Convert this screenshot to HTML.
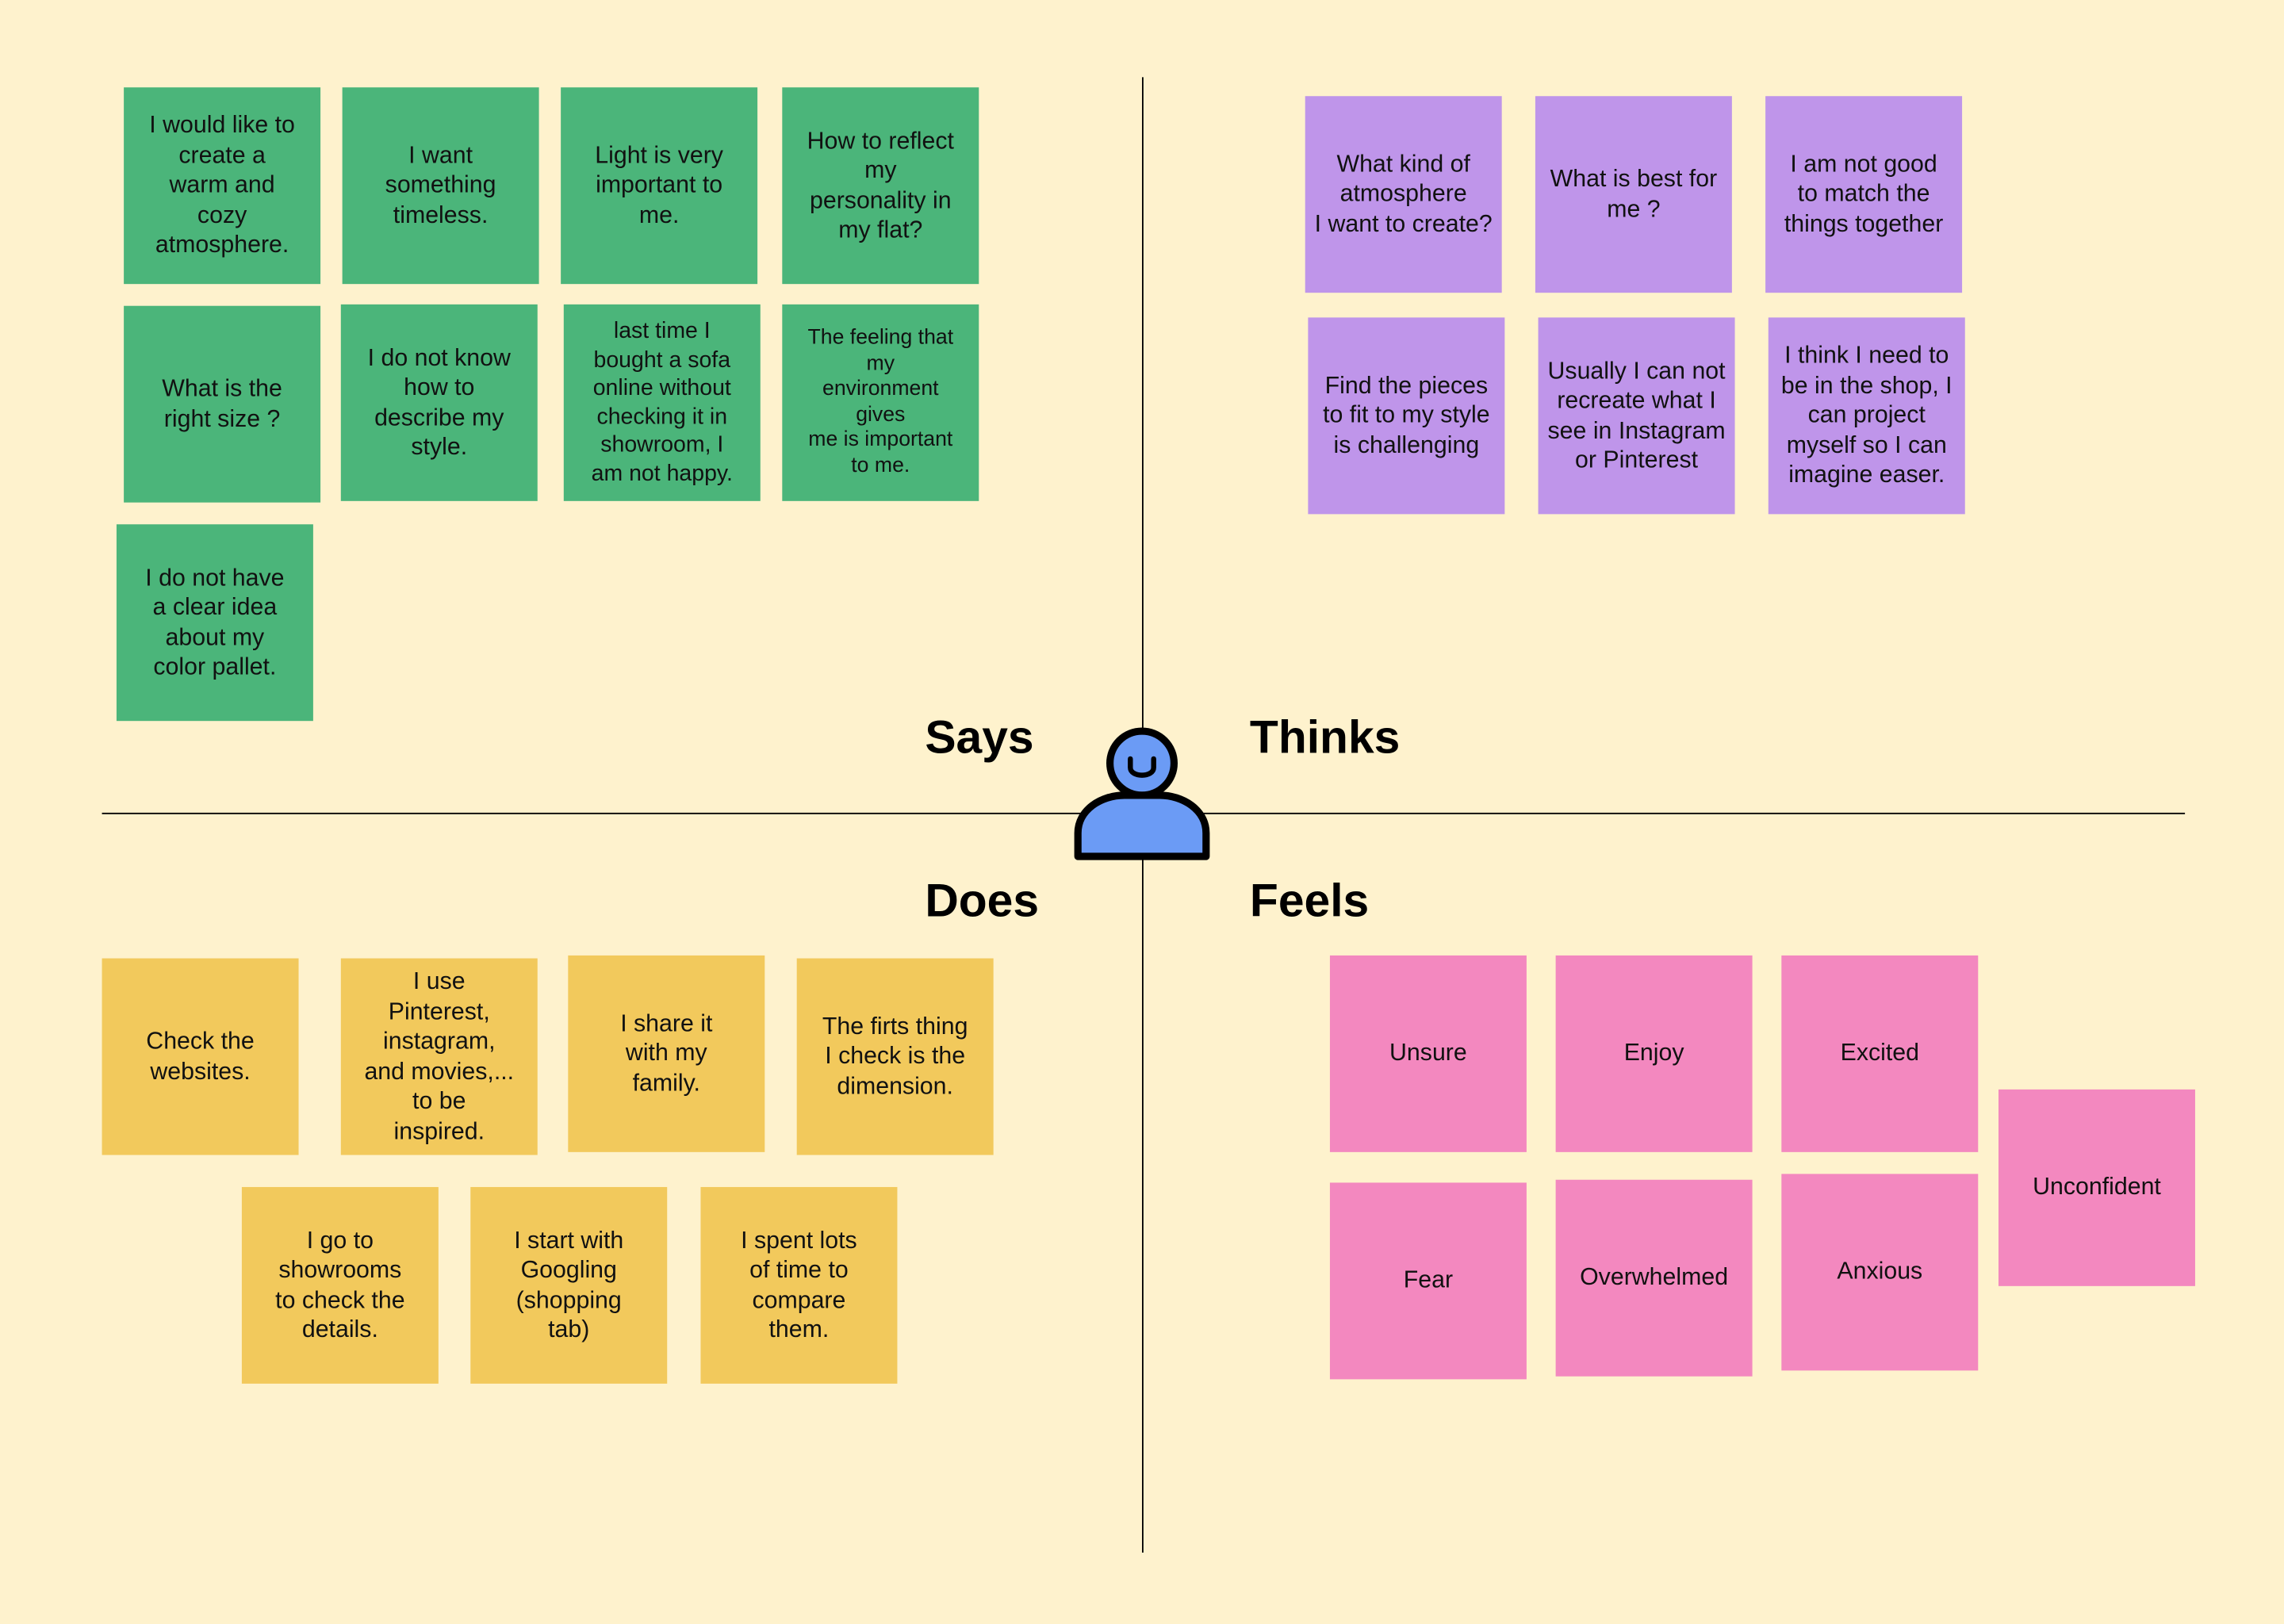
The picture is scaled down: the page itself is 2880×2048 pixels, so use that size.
<!DOCTYPE html>
<html><head><meta charset="utf-8"><style>
html,body{margin:0;padding:0;width:2880px;height:2048px;overflow:hidden;background:#FEF2CD;}
#w{position:absolute;left:0;top:0;width:1568px;height:1115px;transform:scale(1.836735);transform-origin:0 0;font-family:"Liberation Sans",Arial,sans-serif;}
.n{position:absolute;width:135px;height:135px;display:flex;align-items:center;justify-content:center;text-align:center;font-size:16.5px;line-height:20.5px;color:#111;box-sizing:border-box;padding:0 4px;white-space:nowrap;}
.g{background:#4BB57A}.p{background:#BF95EA}.y{background:#F2C95C}.k{background:#F388BF}
.t{position:absolute;font-size:32px;font-weight:bold;color:#000;}
.vl{position:absolute;left:784px;top:53px;width:1.3px;height:1013px;background:#000}
.hl{position:absolute;left:70px;top:558px;width:1430px;height:1.3px;background:#000}
</style></head><body><div id="w">
<div class="vl"></div><div class="hl"></div>
<div class="n g" style="left:85px;top:60px">I would like to<br>create a<br>warm and<br>cozy<br>atmosphere.</div>
<div class="n g" style="left:235px;top:60px">I want<br>something<br>timeless.</div>
<div class="n g" style="left:385px;top:60px">Light is very<br>important to<br>me.</div>
<div class="n g" style="left:537px;top:60px">How to reflect<br>my<br>personality in<br>my flat?</div>
<div class="n g" style="left:85px;top:210px">What is the<br>right size ?</div>
<div class="n g" style="left:234px;top:209px">I do not know<br>how to<br>describe my<br>style.</div>
<div class="n g" style="left:387px;top:209px;font-size:15.5px;line-height:19.5px">last time I<br>bought a sofa<br>online without<br>checking it in<br>showroom, I<br>am not happy.</div>
<div class="n g" style="left:537px;top:209px;font-size:14.5px;line-height:17.5px">The feeling that<br>my<br>environment<br>gives<br>me is important<br>to me.</div>
<div class="n g" style="left:80px;top:360px">I do not have<br>a clear idea<br>about my<br>color pallet.</div>

<div class="n p" style="left:896px;top:66px">What kind of<br>atmosphere<br>I want to create?</div>
<div class="n p" style="left:1054px;top:66px">What is best for<br>me ?</div>
<div class="n p" style="left:1212px;top:66px">I am not good<br>to match the<br>things together</div>
<div class="n p" style="left:898px;top:218px">Find the pieces<br>to fit to my style<br>is challenging</div>
<div class="n p" style="left:1056px;top:218px">Usually I can not<br>recreate what I<br>see in Instagram<br>or Pinterest</div>
<div class="n p" style="left:1214px;top:218px">I think I need to<br>be in the shop, I<br>can project<br>myself so I can<br>imagine easer.</div>

<div class="n y" style="left:70px;top:658px">Check the<br>websites.</div>
<div class="n y" style="left:234px;top:658px">I use<br>Pinterest,<br>instagram,<br>and movies,...<br>to be<br>inspired.</div>
<div class="n y" style="left:390px;top:656px">I share it<br>with my<br>family.</div>
<div class="n y" style="left:547px;top:658px">The firts thing<br>I check is the<br>dimension.</div>
<div class="n y" style="left:166px;top:815px">I go to<br>showrooms<br>to check the<br>details.</div>
<div class="n y" style="left:323px;top:815px">I start with<br>Googling<br>(shopping<br>tab)</div>
<div class="n y" style="left:481px;top:815px">I spent lots<br>of time to<br>compare<br>them.</div>

<div class="n k" style="left:913px;top:656px">Unsure</div>
<div class="n k" style="left:1068px;top:656px">Enjoy</div>
<div class="n k" style="left:1223px;top:656px">Excited</div>
<div class="n k" style="left:913px;top:812px">Fear</div>
<div class="n k" style="left:1068px;top:810px">Overwhelmed</div>
<div class="n k" style="left:1223px;top:806px">Anxious</div>
<div class="n k" style="left:1372px;top:748px">Unconfident</div>

<div class="t" style="left:635px;top:488px">Says</div>
<div class="t" style="left:858px;top:488px">Thinks</div>
<div class="t" style="left:635px;top:600px">Does</div>
<div class="t" style="left:858px;top:600px">Feels</div>

<svg style="position:absolute;left:730px;top:495px" width="110" height="105" viewBox="730 495 110 105">
<path d="M740 588 L740 572 C740 556 756 546 772 546 L796 546 C812 546 828 556 828 572 L828 588 Z" fill="#6B9BF5" stroke="#000" stroke-width="5" stroke-linejoin="round"/>
<circle cx="784" cy="524" r="22" fill="#6B9BF5" stroke="#000" stroke-width="5"/>
<path d="M776 521 L776 527 C776 534 792 534 792 527 L792 521" fill="none" stroke="#000" stroke-width="3.5" stroke-linecap="round"/>
</svg>
</div></body></html>
